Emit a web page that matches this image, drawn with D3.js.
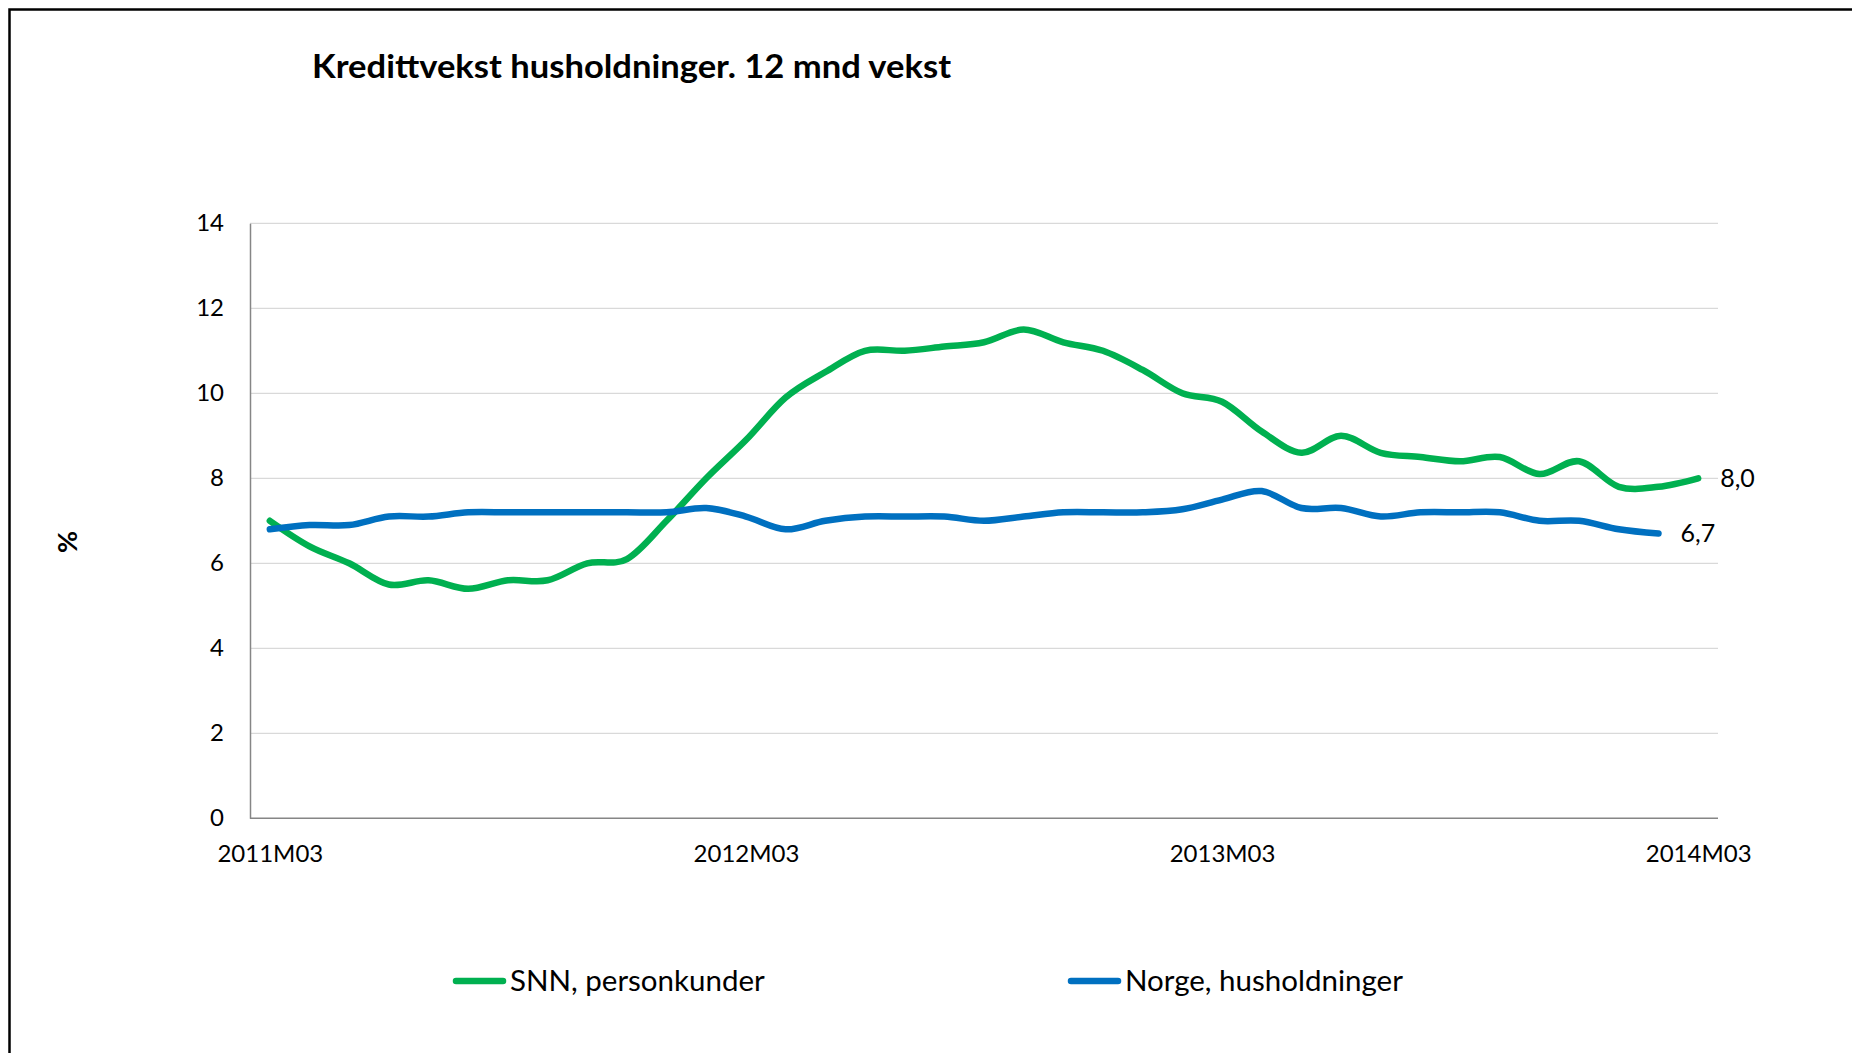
<!DOCTYPE html>
<html>
<head>
<meta charset="utf-8">
<script src="https://cdn.jsdelivr.net/npm/d3@7"></script>
<style>
  html, body { margin: 0; padding: 0; background: #fff; }
  svg { display: block; }
  text { font-family: Lato, "Noto Sans", sans-serif; fill: #000; }
</style>
</head>
<body>
<svg id="chart" width="1852" height="1053"></svg>
<script>
const months = [
  "2011M03","2011M04","2011M05","2011M06","2011M07","2011M08","2011M09","2011M10","2011M11","2011M12",
  "2012M01","2012M02","2012M03","2012M04","2012M05","2012M06","2012M07","2012M08","2012M09","2012M10",
  "2012M11","2012M12","2013M01","2013M02","2013M03","2013M04","2013M05","2013M06","2013M07","2013M08",
  "2013M09","2013M10","2013M11","2013M12","2014M01","2014M02","2014M03"
];
const tickLabels = ["2011M03","2012M03","2013M03","2014M03"];
const yTicks = [0, 2, 4, 6, 8, 10, 12, 14];

const snnValues = [
  7.0, 6.4, 6.0, 5.5, 5.6, 5.4, 5.6, 5.6, 6.0, 6.1,
  7.0, 8.0, 8.9, 9.9, 10.5, 11.0, 11.0, 11.1, 11.2, 11.5,
  11.2, 11.0, 10.55, 10.0, 9.8, 9.1, 8.6, 9.0, 8.6, 8.5,
  8.4, 8.5, 8.1, 8.4, 7.8, 7.8, 8.0
];
const norgeValues = [
  6.8, 6.9, 6.9, 7.1, 7.1, 7.2, 7.2, 7.2, 7.2, 7.2,
  7.2, 7.3, 7.1, 6.8, 7.0, 7.1, 7.1, 7.1, 7.0, 7.1,
  7.2, 7.2, 7.2, 7.27, 7.5, 7.7, 7.3, 7.3, 7.1, 7.2,
  7.2, 7.2, 7.0, 7.0, 6.8, 6.7
];
const seriesNames = ["SNN, personkunder", "Norge, husholdninger"];
const seriesColors = ["#00B050", "#0070C0"];
const endLabels = ["8,0", "6,7"];

const svg = d3.select("#chart");

// outer frame
svg.append("rect")
  .attr("x", 9.5).attr("y", 9.5)
  .attr("width", 2000).attr("height", 2000)
  .attr("fill", "none").attr("stroke", "#000").attr("stroke-width", 2.5);

const plotLeft = 250, plotRight = 1718, plotTop = 223.3, plotBottom = 818.3;
const x = d3.scalePoint().domain(months).range([plotLeft, plotRight]).padding(0.5);
const y = d3.scaleLinear().domain([0, 14]).range([plotBottom, plotTop]);

// gridlines
svg.append("g").selectAll("line")
  .data(yTicks.filter(d => d > 0))
  .join("line")
  .attr("x1", plotLeft).attr("x2", plotRight)
  .attr("y1", d => y(d)).attr("y2", d => y(d))
  .attr("stroke", "#D9D9D9").attr("stroke-width", 1.2);

// y axis
const yAxis = svg.append("g")
  .attr("transform", `translate(${plotLeft},0)`)
  .call(d3.axisLeft(y).tickValues(yTicks).tickSize(0).tickPadding(26).tickFormat(d3.format("d")));
yAxis.select(".domain").attr("stroke", "#868686").attr("stroke-width", 1.5);
yAxis.selectAll("text").style("font-size", "24px").style("font-family", "Lato, sans-serif");

// x axis
const xAxis = svg.append("g")
  .attr("transform", `translate(0,${plotBottom})`)
  .call(d3.axisBottom(x).tickValues(tickLabels).tickSize(0).tickPadding(27));
xAxis.select(".domain").attr("stroke", "#868686").attr("stroke-width", 1.5)
  .attr("d", `M${plotLeft},0H${plotRight}`);
xAxis.selectAll("text").style("font-size", "24px").style("font-family", "Lato, sans-serif");

// lines
const allSeries = [snnValues, norgeValues];
const line = d3.line()
  .x((d, i) => x(months[i]))
  .y(d => y(d))
  .curve(d3.curveCardinal.tension(0));

allSeries.forEach((vals, k) => {
  svg.append("path")
    .datum(vals)
    .attr("d", line)
    .attr("fill", "none")
    .attr("stroke", seriesColors[k])
    .attr("stroke-width", 6.5)
    .attr("stroke-linecap", "round")
    .attr("stroke-linejoin", "round");
  const lastI = vals.length - 1;
  svg.append("text")
    .attr("x", x(months[lastI]) + 22)
    .attr("y", y(vals[lastI]))
    .attr("dy", "0.35em")
    .style("font-size", "25px")
    .text(endLabels[k]);
});

// title
svg.append("text")
  .attr("x", 312).attr("y", 78)
  .attr("textLength", 639).attr("lengthAdjust", "spacingAndGlyphs")
  .style("font-size", "33px").style("font-weight", "bold")
  .text("Kredittvekst husholdninger. 12 mnd vekst");

// y axis title
svg.append("text")
  .attr("transform", "translate(68,542) rotate(-90)")
  .attr("text-anchor", "middle").attr("dy", "0.35em")
  .style("font-size", "27px").style("font-weight", "bold")
  .text("%");

// legend
const legendX = [453, 1068];
seriesNames.forEach((name, k) => {
  const g = svg.append("g").attr("transform", `translate(${legendX[k]},981)`);
  g.append("line")
    .attr("x1", 3).attr("x2", 50).attr("y1", 0).attr("y2", 0)
    .attr("stroke", seriesColors[k]).attr("stroke-width", 6.5).attr("stroke-linecap", "round");
  g.append("text")
    .attr("x", 57).attr("y", 0).attr("dy", "0.35em")
    .style("font-size", "29.5px")
    .text(name);
});
</script>
</body>
</html>
